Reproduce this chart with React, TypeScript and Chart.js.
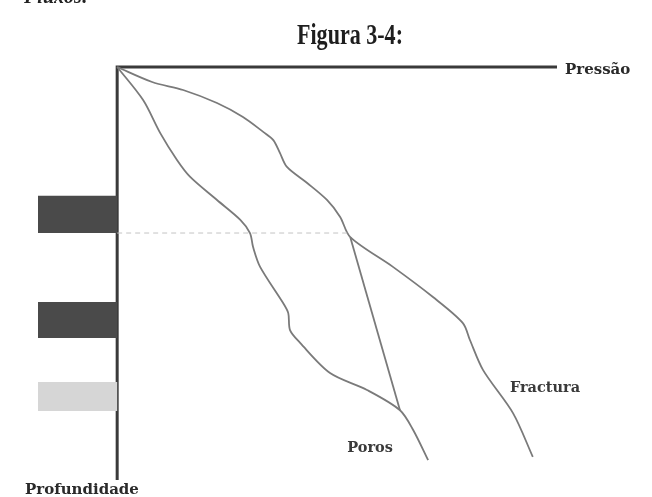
import React, { useEffect, useRef } from "react";
import { Chart, registerables } from "chart.js";

Chart.register(...registerables);

// Pressure (x) vs depth (y), arbitrary units 0..100, depth grows downward
const porosX = [0, 5.9, 9.8, 13.6, 16.6, 22.7, 28.0, 30.2, 30.9, 32.5, 37.7, 38.9, 39.3, 41.6, 48.4, 56.8, 64.3, 67.3, 70.7];
const porosY = [0, 8.0, 16.0, 22.5, 26.6, 32.2, 37.0, 40.2, 43.6, 48.4, 57.1, 59.6, 63.7, 66.8, 74.1, 78.2, 83.1, 87.9, 95.2];

const fracturaX = [0, 7.95, 15.0, 22.7, 28.6, 33.2, 35.5, 37.0, 38.6, 43.2, 47.7, 50.7, 53.0, 62.7, 71.8, 78.6, 80.2, 83.2, 90.0, 94.5];
const fracturaY = [0, 3.63, 5.57, 8.72, 12.1, 15.7, 17.7, 20.8, 24.2, 28.1, 32.2, 36.3, 41.2, 48.4, 55.7, 62.0, 66.1, 73.4, 83.8, 94.4];

const linkX = [53.0, 64.3];
const linkY = [41.2, 83.1];

const refDepth = 40.2;
const refPressure = [0, 53.0];

// depth intervals of the bars on the left of the depth axis
const barRanges: [number, number][] = [
  [31.2, 40.2],
  [56.9, 65.6],
  [76.3, 83.3],
];
const barColors = ["#4a4a4a", "#4a4a4a", "#d6d6d6"];
const barLeft = -18;

const axisMaxX = 100;
const axisMaxY = 100;

const title = "Figura 3-4:";
const xLabel = "Pressão";
const yLabel = "Profundidade";
const porosLabel = "Poros";
const fracturaLabel = "Fractura";

const pts = (xs: number[], ys: number[]) => xs.map((x, i) => ({ x, y: ys[i] }));

export default function App() {
  const ref = useRef<HTMLCanvasElement | null>(null);

  useEffect(() => {
    if (!ref.current) return;
    const curveStyle = {
      borderColor: "#7a7a7a",
      borderWidth: 1.8,
      pointRadius: 0,
      fill: false,
      tension: 0.3,
      clip: false as any,
    };
    const bars = barRanges.map((r, i) => ({
      data: [
        { x: barLeft, y: r[0] },
        { x: 0, y: r[0] },
        { x: 0, y: r[1] },
        { x: barLeft, y: r[1] },
        { x: barLeft, y: r[0] },
      ],
      borderWidth: 0,
      borderColor: barColors[i],
      backgroundColor: barColors[i],
      fill: "shape" as any,
      pointRadius: 0,
      tension: 0,
      clip: false as any,
    }));

    const labelsPlugin = {
      id: "labels",
      afterDraw(chart: any) {
        const ctx = chart.ctx as CanvasRenderingContext2D;
        const xs = chart.scales.x;
        const ys = chart.scales.y;
        ctx.save();
        // cropped heading at the very top
        ctx.fillStyle = "#222";
        ctx.font = "italic bold 20px 'Liberation Serif'";
        ctx.textBaseline = "alphabetic";
        ctx.textAlign = "left";
        ctx.fillText("• Fluxos:", 12, 3);

        // title
        ctx.font = "bold 29px 'Liberation Serif'";
        const w = ctx.measureText(title).width;
        const target = 106;
        ctx.translate(350, 44);
        ctx.scale(target / w, 1);
        ctx.textAlign = "center";
        ctx.fillStyle = "#1e1e1e";
        ctx.fillText(title, 0, 0);
        ctx.restore();

        ctx.save();
        ctx.fillStyle = "#2a2a2a";
        ctx.font = "bold 15px 'DejaVu Serif'";
        ctx.textBaseline = "middle";
        ctx.textAlign = "left";
        ctx.fillText(xLabel, xs.getPixelForValue(axisMaxX) + 8, ys.getPixelForValue(0) + 3);
        ctx.fillText(yLabel, xs.getPixelForValue(barLeft) - 13, ys.getPixelForValue(axisMaxY) + 10);
        ctx.fillStyle = "#3a3a3a";
        ctx.font = "bold 14.5px 'DejaVu Serif'";
        ctx.fillText(porosLabel, xs.getPixelForValue(52.3), ys.getPixelForValue(92.3));
        ctx.fillText(fracturaLabel, xs.getPixelForValue(89.3), ys.getPixelForValue(77.7));
        ctx.restore();
      },
    };

    const chart = new Chart(ref.current, {
      type: "line",
      data: {
        datasets: [
          ...bars,
          {
            data: pts(refPressure, [refDepth, refDepth]),
            borderColor: "#c4c4c4",
            borderWidth: 1,
            borderDash: [5, 4],
            pointRadius: 0,
            fill: false,
            tension: 0,
            clip: false as any,
          },
          { ...curveStyle, data: pts(porosX, porosY) },
          { ...curveStyle, data: pts(fracturaX, fracturaY) },
          { ...curveStyle, tension: 0, data: pts(linkX, linkY) },
          {
            data: [
              { x: axisMaxX, y: 0 },
              { x: 0, y: 0 },
              { x: 0, y: axisMaxY },
            ],
            borderColor: "#3a3a3a",
            borderWidth: 3,
            pointRadius: 0,
            fill: false,
            tension: 0,
            clip: false as any,
          },
        ] as any,
      },
      options: {
        responsive: false,
        devicePixelRatio: 1,
        animation: false,
        layout: { padding: { left: 38, top: 67, right: 95, bottom: 17 } },
        scales: {
          x: { type: "linear", min: barLeft, max: axisMaxX, display: false },
          y: { type: "linear", min: 0, max: axisMaxY, reverse: true, display: false },
        },
        plugins: {
          legend: { display: false },
          tooltip: { enabled: false },
        },
      },
      plugins: [labelsPlugin],
    });
    return () => chart.destroy();
  }, []);

  return (
    <div style={{ position: "absolute", left: 0, top: 0, width: 652, height: 497, background: "#fff" }}>
      <canvas ref={ref} width={652} height={497} style={{ display: "block" }} />
    </div>
  );
}
